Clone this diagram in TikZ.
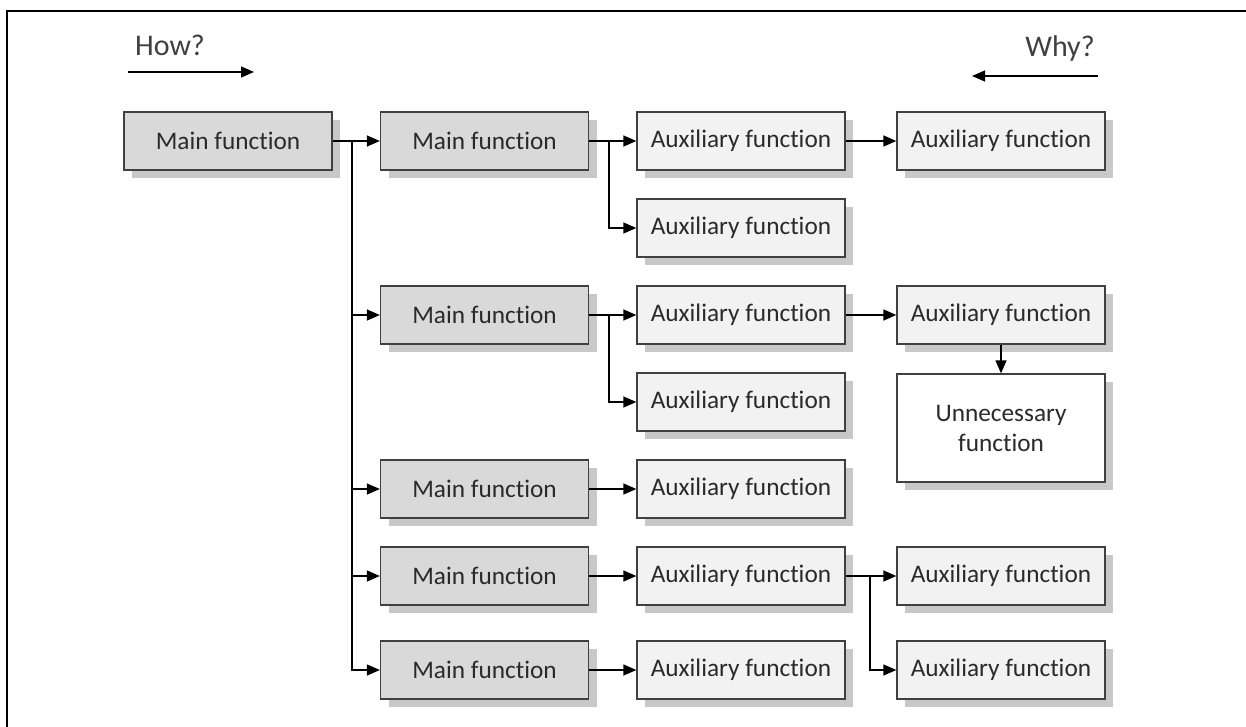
\documentclass[tikz,border=0pt]{standalone}
\usepackage{fontspec}
\setmainfont{Carlito}[Ligatures={NoCommon,NoRare,NoContextual},Contextuals=NoAlternate]
\usetikzlibrary{arrows.meta,shadows}
\definecolor{mainfill}{HTML}{D9D9D9}
\definecolor{auxfill}{HTML}{F2F2F2}
\definecolor{edge}{HTML}{404040}
\definecolor{ink}{HTML}{2A2A2A}
\definecolor{shade}{HTML}{C8C8C8}
% "function" set without the t-i ligature of the font
\newcommand\fnword{funct\kern0pt ion}
\begin{document}
\begin{tikzpicture}[x=1pt,y=-1pt,
  fbox/.style={draw=edge, line width=1.3pt, minimum width=208pt, minimum height=58pt,
    inner sep=0pt, text=ink, font=\fontsize{25.3}{30}\selectfont, align=center,
    general shadow={fill=shade, shadow xshift=8pt, shadow yshift=-8pt}},
  mainbox/.style={fbox, fill=mainfill},
  auxbox/.style={fbox, fill=auxfill},
  nobox/.style={fbox, fill=white, minimum height=108pt},
  link/.style={draw=black, line width=1.3pt, -{Triangle[length=13pt,width=11pt]}},
  wire/.style={draw=black, line width=1.3pt},
  hint/.style={text=edge, font=\fontsize{30}{36}\selectfont, inner sep=0pt}]
\useasboundingbox (0,0) rectangle (1246,727);

% frame
\draw[line width=1.5pt] (7,727) -- (7,11) -- (1246,11);

% direction hints
\node[hint] (how) at (170,45) {How?};
\node[hint] (why) at (1060,49) {Why?};
\coordinate (howA) at (128,72);
\coordinate (howB) at (254,72);
\coordinate (whyA) at (1098,76);
\coordinate (whyB) at (972,76);
\draw[link] (howA) -- (howB);
\draw[link] (whyA) -- (whyB);

% first level
\node[mainbox] (m0) at (228,141) {Main \fnword};

% second level
\node[mainbox] (m1) at (484.5,141) {Main \fnword};
\node[mainbox] (m3) at (484.5,315) {Main \fnword};
\node[mainbox] (m5) at (484.5,489) {Main \fnword};
\node[mainbox] (m6) at (484.5,576) {Main \fnword};
\node[mainbox] (m7) at (484.5,670) {Main \fnword};

% third level
\node[auxbox] (a1) at (741,141) {Auxiliary \fnword};
\node[auxbox] (a2) at (741,228) {Auxiliary \fnword};
\node[auxbox] (a3) at (741,315) {Auxiliary \fnword};
\node[auxbox] (a4) at (741,402) {Auxiliary \fnword};
\node[auxbox] (a5) at (741,489) {Auxiliary \fnword};
\node[auxbox] (a6) at (741,576) {Auxiliary \fnword};
\node[auxbox] (a7) at (741,670) {Auxiliary \fnword};

% fourth level
\node[auxbox] (b1) at (1001,141) {Auxiliary \fnword};
\node[auxbox] (b3) at (1001,315) {Auxiliary \fnword};
\node[nobox] (u3) at (1001,428) {Unnecessary\\\fnword};
\node[auxbox] (b6) at (1001,576) {Auxiliary \fnword};
\node[auxbox] (b7) at (1001,670) {Auxiliary \fnword};

% branching points
\coordinate (j0) at (352,141);
\coordinate (j1) at (609,141);
\coordinate (j3) at (609,315);
\coordinate (j6) at (870,576);

% connectors
\draw[wire] (m0.east) -- (j0);
\draw[link] (j0) -- (m1.west);
\draw[link] (j0) |- (m3.west);
\draw[link] (j0) |- (m5.west);
\draw[link] (j0) |- (m6.west);
\draw[link] (j0) |- (m7.west);

\draw[wire] (m1.east) -- (j1);
\draw[link] (j1) -- (a1.west);
\draw[link] (j1) |- (a2.west);
\draw[link] (a1) -- (b1);

\draw[wire] (m3.east) -- (j3);
\draw[link] (j3) -- (a3.west);
\draw[link] (j3) |- (a4.west);
\draw[link] (a3) -- (b3);
\draw[link] (b3) -- (u3);

\draw[link] (m5) -- (a5);

\draw[link] (m6) -- (a6);
\draw[wire] (a6.east) -- (j6);
\draw[link] (j6) -- (b6.west);
\draw[link] (j6) |- (b7.west);

\draw[link] (m7) -- (a7);
\end{tikzpicture}
\end{document}
